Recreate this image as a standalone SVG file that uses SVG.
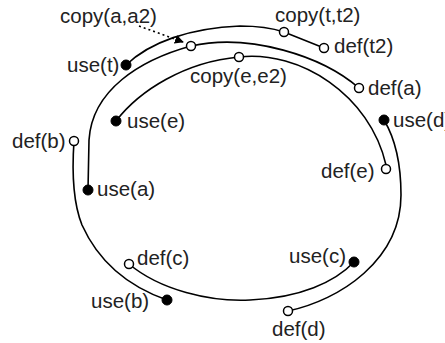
<svg xmlns="http://www.w3.org/2000/svg" width="445" height="343" viewBox="0 0 445 343">
<defs>
<style>
.c{fill:none;stroke:#000;stroke-width:1.6}
.o{fill:#fff;stroke:#000;stroke-width:1.5}
.f{fill:#000;stroke:#000;stroke-width:1}
text{font-family:"Liberation Sans",Arial,Helvetica,sans-serif;font-size:20.5px;fill:#222}
.d{fill:none;stroke:#000;stroke-width:1.6;stroke-dasharray:2 3}
</style>
<marker id="ah" viewBox="0 0 10 10" refX="9" refY="5" markerWidth="9" markerHeight="9" markerUnits="userSpaceOnUse" orient="auto">
<path d="M0,0 L10,5 L0,10 z" fill="#000"/>
</marker>
</defs>
<rect width="445" height="343" fill="#fff"/>
<g id="connectors">
<path id="path-t" class="c" d="M126,65 C150,42 190,28 240,26 C258,26 272,28 284,32 L324,48"/>
<path id="path-a" class="c" d="M359,88 C322,56 250,33 191,46 C140,60 92,90 89,140 L88,190"/>
<path id="path-e" class="c" d="M116,121 C140,90 185,62 239,57 C300,50 370,95 386,165"/>
<path id="path-d" class="c" d="M384,120 C396,140 401,165 401,195 C401,260 340,300 288,311"/>
<path id="path-c" class="c" d="M129,264 C160,290 210,302 250,300 C300,298 335,282 354,262"/>
<path id="path-b" class="c" d="M74,141 C72,170 72,200 82,225 C100,265 130,287 167,300"/>
<path id="arrow" class="d" d="M139,26 L183,42" marker-end="url(#ah)"/>
</g>
<g id="node-use-t"><circle class="f" cx="126" cy="65" r="5"/><text x="67" y="72">use(t)</text></g>
<g id="node-copy-t-t2"><circle class="o" cx="284" cy="32" r="4.5"/><text x="275" y="22">copy(t,t2)</text></g>
<g id="node-def-t2"><circle class="o" cx="324" cy="48" r="4.5"/><text x="334" y="53">def(t2)</text></g>
<g id="node-copy-a-a2"><circle class="o" cx="191" cy="46" r="4.5"/><text x="60" y="23">copy(a,a2)</text></g>
<g id="node-def-a"><circle class="o" cx="359" cy="88" r="4.5"/><text x="368" y="95">def(a)</text></g>
<g id="node-use-a"><circle class="f" cx="88" cy="190" r="5"/><text x="97" y="196">use(a)</text></g>
<g id="node-use-e"><circle class="f" cx="116" cy="121" r="5"/><text x="127" y="128">use(e)</text></g>
<g id="node-copy-e-e2"><circle class="o" cx="239" cy="57" r="4.5"/><text x="190" y="83">copy(e,e2)</text></g>
<g id="node-def-e"><circle class="o" cx="386" cy="169" r="4.5"/><text x="321" y="178">def(e)</text></g>
<g id="node-use-d"><circle class="f" cx="384" cy="120" r="5"/><text x="393" y="127">use(d)</text></g>
<g id="node-def-d"><circle class="o" cx="288" cy="311" r="4.5"/><text x="272" y="336">def(d)</text></g>
<g id="node-use-c"><circle class="f" cx="354" cy="262" r="5"/><text x="289" y="263">use(c)</text></g>
<g id="node-def-c"><circle class="o" cx="129" cy="264" r="4.5"/><text x="137" y="265">def(c)</text></g>
<g id="node-def-b"><circle class="o" cx="74" cy="141" r="4.5"/><text x="12" y="148">def(b)</text></g>
<g id="node-use-b"><circle class="f" cx="167" cy="300" r="5"/><text x="91" y="308">use(b)</text></g>
</svg>
